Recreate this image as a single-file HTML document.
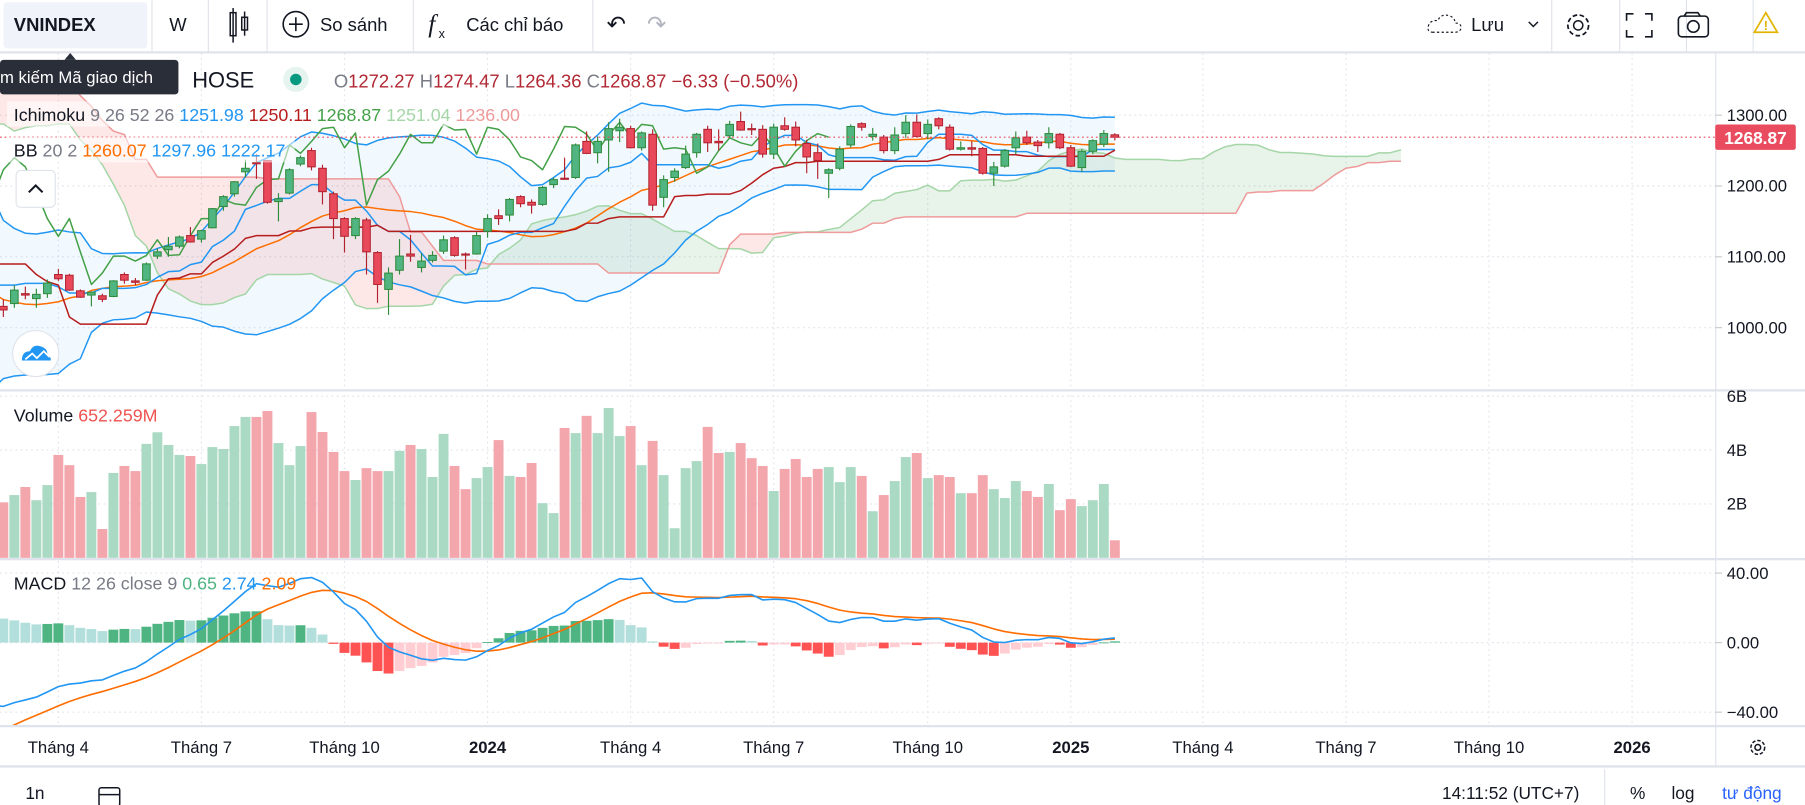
<!DOCTYPE html>
<html><head><meta charset="utf-8"><style>
html,body{margin:0;padding:0;background:#fff;overflow:hidden}
svg{display:block;font-family:"Liberation Sans","DejaVu Sans",sans-serif}
</style></head><body>
<svg id="chart" xmlns="http://www.w3.org/2000/svg" width="1805" height="805" viewBox="0 0 1568 699" preserveAspectRatio="none">
<defs>
<clipPath id="cpMain"><rect x="0" y="46" width="1490" height="292"/></clipPath>
<clipPath id="cpVol"><rect x="0" y="340" width="1490" height="145"/></clipPath>
<clipPath id="cpMacd"><rect x="0" y="486" width="1490" height="144"/></clipPath>
</defs>
<rect x="0" y="0" width="1568" height="699" fill="#fff"/>
<g id="grid"></g>
<g id="mainG" clip-path="url(#cpMain)"></g>
<g id="volG" clip-path="url(#cpVol)"></g>
<g id="macdG" clip-path="url(#cpMacd)"></g>

<line x1="0" y1="45.5" x2="1568" y2="45.5" stroke="#e0e3eb" stroke-width="2"/>
<line x1="0" y1="339" x2="1568" y2="339" stroke="#e0e3eb" stroke-width="2"/>
<line x1="0" y1="485.5" x2="1568" y2="485.5" stroke="#e0e3eb" stroke-width="2"/>
<line x1="0" y1="630.5" x2="1568" y2="630.5" stroke="#e0e3eb" stroke-width="2"/>
<line x1="0" y1="665.5" x2="1568" y2="665.5" stroke="#e0e3eb" stroke-width="2"/>
<line x1="1490.5" y1="46" x2="1490.5" y2="665" stroke="#e0e3eb" stroke-width="1"/>
<g id="axes"></g>

<g font-size="16" fill="#131722">
<rect x="3" y="2" width="125" height="40" rx="3" fill="#f0f3fa"/>
<text x="12" y="27" font-weight="bold" font-size="16">VNINDEX</text>
<line x1="132" y1="0" x2="132" y2="45" stroke="#e0e3eb"/>
<text x="147" y="27">W</text>
<line x1="181" y1="0" x2="181" y2="45" stroke="#e0e3eb"/>
<g stroke="#131722" fill="none" stroke-width="1.3">
<rect x="200" y="11" width="5" height="20"/><line x1="202.5" y1="7" x2="202.5" y2="37"/>
<rect x="210" y="15" width="5" height="11"/><line x1="212.5" y1="10" x2="212.5" y2="31"/></g>
<line x1="232" y1="0" x2="232" y2="45" stroke="#e0e3eb"/>
<g><circle cx="257" cy="21" r="11" fill="none" stroke="#131722" stroke-width="1.4"/>
<line x1="251" y1="21" x2="263" y2="21" stroke="#131722" stroke-width="1.4"/><line x1="257" y1="15" x2="257" y2="27" stroke="#131722" stroke-width="1.4"/>
<text x="278" y="27">So sánh</text></g>
<line x1="359" y1="0" x2="359" y2="45" stroke="#e0e3eb"/>
<g><text x="372" y="28" font-family="Liberation Serif,serif" font-style="italic" font-size="22">f</text><text x="381" y="33" font-size="11">x</text>
<text x="405" y="27">Các chỉ báo</text></g>
<line x1="515" y1="0" x2="515" y2="45" stroke="#e0e3eb"/>
<text x="527" y="28" font-size="20">↶</text>
<text x="562" y="28" font-size="20" fill="#b2b5be">↷</text>
<g><path d="M1245 28 q-6 0 -4 -6 q2 -5 8 -4 q3 -7 11 -4 q4 2 4 6 q6 0 5 5 q-1 3 -5 3 z" fill="none" stroke="#131722" stroke-dasharray="2,2"/>
<text x="1278" y="27">Lưu</text><path d="M1328 19 l4 4 l4 -4" fill="none" stroke="#131722" stroke-width="1.3"/></g>
<line x1="1348" y1="0" x2="1348" y2="45" stroke="#e0e3eb"/>
<g><circle cx="1371" cy="22" r="9" fill="none" stroke="#131722" stroke-width="1.5" stroke-dasharray="4,2.2"/><circle cx="1371" cy="22" r="4" fill="none" stroke="#131722" stroke-width="1.3"/></g>
<line x1="1407" y1="0" x2="1407" y2="45" stroke="#e0e3eb"/>
<g stroke="#131722" stroke-width="1.4" fill="none"><path d="M1413 18 v-6 h6 M1429 12 h6 v6 M1435 26 v6 h-6 M1419 32 h-6 v-6"/></g>
<line x1="1465" y1="0" x2="1465" y2="45" stroke="#e0e3eb"/>
<g fill="none" stroke="#131722" stroke-width="1.4"><rect x="1458" y="14" width="26" height="18" rx="3"/><circle cx="1471" cy="23" r="5"/><path d="M1463 14 l2 -3 h10 l2 3"/></g>
<line x1="1523" y1="0" x2="1523" y2="45" stroke="#e0e3eb"/>
<g><path d="M1534 11 l10 17 h-20 z" fill="none" stroke="#e0b400" stroke-width="1.5"/><text x="1534" y="26" font-size="11" fill="#e0b400" text-anchor="middle" font-weight="bold">!</text></g>
</g>

<g id="legends">
<g font-size="16">
<rect x="0" y="52" width="155" height="30" rx="3" fill="#2a2e39"/>
<path d="M56 52 l5 -6 l5 6 z" fill="#2a2e39"/>
<text x="0" y="72" fill="#fff" font-size="14.5">m kiếm Mã giao dịch</text>
<text x="167" y="76" font-size="19" fill="#131722">HOSE</text>
<circle cx="257" cy="69" r="11" fill="#e6f4ef"/><circle cx="257" cy="69" r="5" fill="#089981"/>
<text x="290" y="76" font-size="16"><tspan fill="#787b86">O</tspan><tspan fill="#b22833">1272.27</tspan><tspan fill="#787b86"> H</tspan><tspan fill="#b22833">1274.47</tspan><tspan fill="#787b86"> L</tspan><tspan fill="#b22833">1264.36</tspan><tspan fill="#787b86"> C</tspan><tspan fill="#b22833">1268.87</tspan><tspan fill="#b22833">  −6.33 (−0.50%)</tspan></text>
</g>
<g font-size="15.5">
<rect x="6" y="88" width="450" height="22" fill="#fff" opacity="0.55"/>
<text x="12" y="105"><tspan fill="#131722">Ichimoku</tspan><tspan fill="#787b86"> 9 26 52 26 </tspan><tspan fill="#2196f3"> 1251.98 </tspan><tspan fill="#b71c1c"> 1250.11 </tspan><tspan fill="#43a047"> 1268.87 </tspan><tspan fill="#a5d6a7"> 1251.04 </tspan><tspan fill="#ef9a9a"> 1236.00</tspan></text>
</g>
<g font-size="15.5">
<rect x="6" y="119" width="250" height="22" fill="#fff" opacity="0.55"/>
<text x="12" y="136"><tspan fill="#131722">BB</tspan><tspan fill="#787b86"> 20 2 </tspan><tspan fill="#ff6d00"> 1260.07 </tspan><tspan fill="#2196f3"> 1297.96 </tspan><tspan fill="#2196f3"> 1222.17</tspan></text>
</g>
<g><rect x="14" y="148" width="34" height="32" rx="4" fill="#fff" stroke="#e0e3eb"/><path d="M25 167 l6 -6 l6 6" fill="none" stroke="#131722" stroke-width="1.8"/></g>
<g><circle cx="31" cy="307" r="20" fill="#fff" stroke="#e0e3eb"/><path d="M19 313 q0 -8 7 -8 q3 -7 10 -4 q6 2 5 8 q4 1 3 4 z" fill="#2196f3"/><path d="M22 312 l6 -5 l4 4 l6 -6 l5 5" fill="none" stroke="#fff" stroke-width="1.5"/></g>
<text x="12" y="366" font-size="15.5"><tspan fill="#131722">Volume</tspan><tspan fill="#ef5350">  652.259M</tspan></text>
<text x="12" y="512" font-size="15.5"><tspan fill="#131722">MACD</tspan><tspan fill="#787b86"> 12 26 close 9 </tspan><tspan fill="#4db482"> 0.65 </tspan><tspan fill="#2196f3"> 2.74 </tspan><tspan fill="#ff6d00"> 2.09</tspan></text>
</g>

<g font-size="15" fill="#131722">
<text x="22" y="694">1n</text>
<g fill="none" stroke="#131722" stroke-width="1.3"><rect x="86" y="684" width="18" height="16" rx="2"/><line x1="86" y1="690" x2="104" y2="690"/></g>
<text x="1372" y="694" text-anchor="end">14:11:52 (UTC+7)</text>
<line x1="1394" y1="668" x2="1394" y2="699" stroke="#e0e3eb"/>
<text x="1416" y="694">%</text>
<text x="1452" y="694">log</text>
<text x="1496" y="694" fill="#2962ff">tư động</text>
</g>
<g fill="none" stroke="#131722" stroke-width="1.3"><circle cx="1527" cy="649" r="6" stroke-dasharray="3,1.6"/><circle cx="1527" cy="649" r="2.5"/></g>
</svg>

<script>
const preClose = [1330,1340,1320,1350,1330,1340,1350,1340,1380,1390,1420,1440,1450,1460,1470,1460,1480,1460,1430,1470,1490,1500,
1525,1500,1440,1480,1480,1500,1490,1500,1470,1460,1490,1500,1520,1470,1370,1370,1330,1230,1220,1240,1290,1250,1190,1200,
1170,1180,1180,1210,1240,1250,1270,1280,1250,1230,1220,1130,1100,1060,1030,1020,950,980,900,980,1020,1050,1040,1010,
1060,1090,1110,1100,1080,1060];
const openP = [1030,1034,1048,1041,1048,1075,1074,1052,1046,1045,1044,1075,1066,1067,1101,1110,1115,1130,1125,1141,
1171,1189,1220,1233,1236,1178,1190,1231,1250,1225,1189,1154,1130,1152,1106,1054,1081,1104,1085,1095,
1108,1127,1104,1104,1136,1158,1159,1185,1177,1174,1202,1211,1212,1263,1247,1265,1278,1281,1254,1273,
1184,1212,1226,1247,1280,1263,1271,1291,1281,1280,1245,1285,1283,1260,1247,1218,1225,1258,1288,1270,
1269,1250,1274,1290,1274,1295,1283,1252,1254,1253,1218,1228,1254,1269,1262,1261,1273,1254,1226,1249,1259,1272.27];
const highP = [1040,1060,1058,1055,1068,1083,1076,1054,1051,1048,1067,1078,1070,1092,1112,1128,1130,1142,1138,1169,
1187,1207,1237,1245,1237,1190,1225,1243,1254,1230,1192,1156,1156,1155,1108,1085,1125,1131,1105,1108,
1130,1129,1106,1135,1160,1167,1183,1187,1181,1200,1212,1240,1260,1277,1270,1290,1295,1285,1277,1280,
1215,1225,1257,1275,1285,1280,1292,1305,1288,1286,1288,1297,1291,1265,1260,1225,1256,1287,1290,1282,
1272,1283,1300,1301,1294,1297,1287,1263,1263,1255,1234,1252,1277,1278,1265,1283,1275,1258,1252,1266,1279,1274.47];
const lowP = [1015,1028,1040,1028,1042,1066,1052,1042,1030,1036,1043,1062,1060,1066,1097,1100,1112,1120,1120,1140,
1165,1185,1212,1210,1175,1150,1188,1228,1222,1174,1125,1106,1125,1075,1035,1018,1075,1093,1078,1092,
1104,1100,1082,1103,1127,1145,1150,1170,1161,1172,1197,1209,1210,1245,1232,1220,1262,1253,1250,1165,
1170,1206,1224,1240,1248,1250,1268,1278,1272,1240,1238,1278,1256,1218,1210,1183,1222,1254,1278,1264,
1246,1245,1268,1269,1266,1280,1250,1250,1242,1216,1200,1226,1245,1258,1248,1253,1252,1227,1220,1245,1255,1264.36];
const closeP = [1025,1053,1046,1047,1063,1069,1053,1043,1050,1040,1066,1067,1064,1090,1107,1115,1128,1121,1137,1168,
1185,1206,1225,1232,1177,1182,1223,1240,1227,1192,1154,1129,1154,1107,1061,1077,1101,1101,1094,1102,
1124,1102,1103,1130,1154,1154,1181,1175,1173,1198,1209,1210,1258,1246,1263,1281,1283,1254,1275,1173,
1209,1221,1245,1273,1261,1261,1287,1279,1280,1245,1283,1280,1265,1241,1236,1223,1252,1284,1283,1273,
1250,1272,1290,1270,1287,1285,1252,1254,1252,1218,1227,1250,1268,1261,1257,1274,1254,1228,1249,1264,1274,1268.87];
const volumeB = [2.06,2.33,2.63,2.14,2.70,3.82,3.44,2.26,2.44,1.07,3.15,3.41,3.22,4.23,4.66,4.19,3.82,3.78,3.48,4.11,
4.04,4.89,5.23,5.23,5.45,4.26,3.44,4.15,5.41,4.67,3.93,3.22,2.89,3.33,3.22,3.22,3.97,4.19,4.04,3.00,
4.60,3.41,2.55,2.96,3.37,4.37,3.04,3.00,3.52,2.03,1.66,4.82,4.63,5.27,4.63,5.56,4.52,4.89,3.44,4.34,
3.07,1.10,3.33,3.59,4.86,3.89,3.93,4.26,3.70,3.41,2.48,3.30,3.67,3.00,3.30,3.37,2.81,3.37,3.04,1.73,
2.33,2.85,3.74,3.89,2.96,3.07,3.00,2.40,2.40,3.07,2.55,2.22,2.85,2.48,2.26,2.74,1.77,2.18,1.92,2.14,2.74,0.652];
const priceTicks = [1300,1200,1100,1000];
const priceTickLabels = ["1300.00","1200.00","1100.00","1000.00"];
const volTicks = [6,4,2];
const volTickLabels = ["6B","4B","2B"];
const macdTicks = [40,0,-40];
const macdTickLabels = ["40.00","0.00","−40.00"];
const timeLabels = ["Tháng 4","Tháng 7","Tháng 10","2024","Tháng 4","Tháng 7","Tháng 10","2025","Tháng 4","Tháng 7","Tháng 10","2026"];
const timeLabelWeek = [5,18,31,44,57,70,84,97,109,122,135,148];
const timeLabelBold = [0,0,0,1,0,0,0,1,0,0,0,1];
const lastPrice = 1268.87;

const NS="http://www.w3.org/2000/svg";
const P = preClose.length;
const N = closeP.length;
const X0 = 2.9, STEP = 9.56;
function xAt(i){ return X0 + STEP*i; }
function yPrice(p){ return 100 + (1300-p)*0.615; }
function yVol(v){ return 484.4 - v*23.4; }
function yMacd(v){ return 558 - v*1.51; }
function mk(tag, parent, attrs){ const e=document.createElementNS(NS,tag); for(const k in attrs) e.setAttribute(k,attrs[k]); parent.appendChild(e); return e; }

const C = preClose.concat(closeP);
const H = preClose.concat(highP);
const L = preClose.concat(lowP);
const T = C.length;

const grid=document.getElementById('grid'), mainG=document.getElementById('mainG'), volG=document.getElementById('volG'), macdG=document.getElementById('macdG'), axes=document.getElementById('axes');

timeLabelWeek.forEach((w,k)=>{
  const x=xAt(w);
  const gl=mk('line',grid,{x1:x,y1:46,x2:x,y2:630,stroke:'#e0e3eb','stroke-dasharray':'1.5,3'});
  
  
  const t=mk('text',axes,{x:x,y:654,'text-anchor':'middle','font-size':14.5,fill:'#131722','font-weight':timeLabelBold[k]?'bold':'normal'});
  t.textContent=timeLabels[k];
  
  
});
priceTicks.forEach((p,k)=>{
  const y=yPrice(p);
  const gl=mk('line',grid,{x1:0,y1:y,x2:1490,y2:y,stroke:'#e0e3eb','stroke-dasharray':'1.5,3'});
  
  
  mk('line',axes,{x1:1490,y1:y,x2:1496,y2:y,stroke:'#c8cad1'});
  const t=mk('text',axes,{x:1500,y:y+5,'font-size':14.5,fill:'#131722'});
  t.textContent=priceTickLabels[k];
  
  
});
volTicks.forEach((v,k)=>{
  const y=yVol(v);
  const gl=mk('line',grid,{x1:0,y1:y,x2:1490,y2:y,stroke:'#e0e3eb','stroke-dasharray':'1.5,3'});
  
  
  const t=mk('text',axes,{x:1500,y:y+5,'font-size':14.5,fill:'#131722'});
  t.textContent=volTickLabels[k];
  
  
});
macdTicks.forEach((v,k)=>{
  const y=yMacd(v);
  const gl=mk('line',grid,{x1:0,y1:y,x2:1490,y2:y,stroke:'#e0e3eb','stroke-dasharray':'1.5,3'});
  
  
  mk('line',axes,{x1:1490,y1:y,x2:1496,y2:y,stroke:'#c8cad1'});
  const t=mk('text',axes,{x:1500,y:y+5,'font-size':14.5,fill:'#131722'});
  t.textContent=macdTickLabels[k];
  
  
});

function midRange(g,len){ let hi=-1e9,lo=1e9; for(let j=Math.max(0,g-len+1);j<=g;j++){hi=Math.max(hi,H[j]);lo=Math.min(lo,L[j]);} return (hi+lo)/2; }
const tenkan=[],kijun=[],senkouB=[];
for(let g=0;g<T;g++){ tenkan[g]=midRange(g,9); kijun[g]=midRange(g,26); senkouB[g]=midRange(g,52); }
const bbMid=[],bbUp=[],bbLo=[];
for(let g=0;g<T;g++){ const s=Math.max(0,g-19); let sum=0,n=0; for(let j=s;j<=g;j++){sum+=C[j];n++;} const m=sum/n; let v=0; for(let j=s;j<=g;j++) v+=(C[j]-m)**2; const sd=Math.sqrt(v/n); bbMid[g]=m;bbUp[g]=m+2*sd;bbLo[g]=m-2*sd; }
const e12=[],e26=[],macd=[],sig=[],hist=[];
for(let g=0;g<T;g++){ if(g===0){e12[g]=C[0];e26[g]=C[0];} else {e12[g]=e12[g-1]+(C[g]-e12[g-1])*2/13; e26[g]=e26[g-1]+(C[g]-e26[g-1])*2/27;} macd[g]=e12[g]-e26[g]; sig[g]= g===0?macd[0]:sig[g-1]+(macd[g]-sig[g-1])*2/10; hist[g]=macd[g]-sig[g]; }

function gx(g){ return xAt(g-P); }
function poly(pts){ return pts.map(p=>p[0].toFixed(1)+','+p[1].toFixed(1)).join(' '); }

const spanA=[],spanB=[];
for(let g=P-28; g<T; g++){ spanA.push([gx(g+26), (tenkan[g]+kijun[g])/2]); spanB.push([gx(g+26), senkouB[g]]); }
for(let k=0;k<spanA.length-1;k++){
  const a0=spanA[k],a1=spanA[k+1],b0=spanB[k],b1=spanB[k+1];
  const up=(a0[1]+a1[1])>=(b0[1]+b1[1]);
  const seg=mk('polygon',mainG,{points:poly([[a0[0],yPrice(a0[1])],[a1[0],yPrice(a1[1])],[b1[0],yPrice(b1[1])],[b0[0],yPrice(b0[1])]]),fill:up?'rgba(67,160,71,0.12)':'rgba(244,67,54,0.12)',stroke:'none'});
  
  
}
const bbU=[],bbL=[];
for(let g=P-1;g<T;g++){ bbU.push([gx(g),yPrice(bbUp[g])]); bbL.push([gx(g),yPrice(bbLo[g])]); }
const bbf=mk('polygon',mainG,{points:poly(bbU.concat(bbL.slice().reverse())),fill:'rgba(33,150,243,0.06)'});



function drawLine(parent,pts,color,w,name){ const e=mk('polyline',parent,{points:poly(pts),fill:'none',stroke:color,'stroke-width':w,'stroke-linejoin':'round'});   return e; }
drawLine(mainG,spanA.map(p=>[p[0],yPrice(p[1])]),'#a5d6a7',1.3,'ichimoku-leading-span-a');
drawLine(mainG,spanB.map(p=>[p[0],yPrice(p[1])]),'#ef9a9a',1.3,'ichimoku-leading-span-b');
drawLine(mainG,bbU,'#2196f3',1.3,'bollinger-upper');
drawLine(mainG,bbL,'#2196f3',1.3,'bollinger-lower');
const mid=[]; for(let g=P-1;g<T;g++) mid.push([gx(g),yPrice(bbMid[g])]);
drawLine(mainG,mid,'#ff6d00',1.3,'bollinger-basis');
const tk=[],kj=[],ch=[];
for(let g=P-1;g<T;g++){ tk.push([gx(g),yPrice(tenkan[g])]); kj.push([gx(g),yPrice(kijun[g])]); }
for(let g=P-1;g<T;g++){ ch.push([gx(g-26),yPrice(C[g])]); }
drawLine(mainG,tk,'#2196f3',1.3,'ichimoku-conversion-line');
drawLine(mainG,kj,'#b71c1c',1.3,'ichimoku-base-line');
drawLine(mainG,ch,'#43a047',1.3,'ichimoku-lagging-span');

for(let i=0;i<N;i++){
  const x=xAt(i), up=closeP[i]>=openP[i];
  const fill=up?'#51b582':'#e84a5c', st=up?'#2f8b3c':'#b2222e';
  const g=mk('g',mainG,{});
  
  
  mk('line',g,{x1:x,y1:yPrice(highP[i]),x2:x,y2:yPrice(lowP[i]),stroke:st,'stroke-width':1});
  const yt=yPrice(Math.max(openP[i],closeP[i])), yb=yPrice(Math.min(openP[i],closeP[i]));
  mk('rect',g,{x:x-3.3,y:yt,width:6.6,height:Math.max(1,yb-yt),fill:fill,stroke:st,'stroke-width':0.9});
}
const ly=yPrice(lastPrice);
const lpl=mk('line',mainG,{x1:0,y1:ly,x2:1490,y2:ly,stroke:'#e84a5c','stroke-dasharray':'1.5,2.5'});


const badge=mk('rect',axes,{x:1490,y:ly-11,width:70,height:22,rx:2,fill:'#ea4c5f'});


const bt=mk('text',axes,{x:1525,y:ly+6,'text-anchor':'middle','font-size':15,fill:'#fff','font-weight':'bold'});
bt.textContent=lastPrice.toFixed(2);



for(let i=0;i<N;i++){
  const up=closeP[i]>=openP[i];
  const r=mk('rect',volG,{x:xAt(i)-4.3,y:yVol(volumeB[i]),width:8.6,height:yVol(0)-yVol(volumeB[i]),fill:up?'#aadac3':'#f4a6ad'});
  
  
}
for(let i=0;i<N;i++){
  const g=i+P, h=hist[g], prev=hist[g-1];
  let col; if(h>=0) col= h>=prev?'#4db482':'#b2dfdb'; else col= h<prev?'#ff5252':'#ffcdd2';
  const y0=yMacd(0), y1=yMacd(h);
  const r=mk('rect',macdG,{x:xAt(i)-4.3,y:Math.min(y0,y1),width:8.6,height:Math.max(0.8,Math.abs(y1-y0)),fill:col});
  
  
}
const mPts=[],sPts=[];
for(let g=P-1;g<T;g++){ mPts.push([gx(g),yMacd(macd[g])]); sPts.push([gx(g),yMacd(sig[g])]); }
drawLine(macdG,sPts,'#ff6d00',1.4,'macd-signal-line');
drawLine(macdG,mPts,'#2196f3',1.4,'macd-line');
</script>
</body></html>
